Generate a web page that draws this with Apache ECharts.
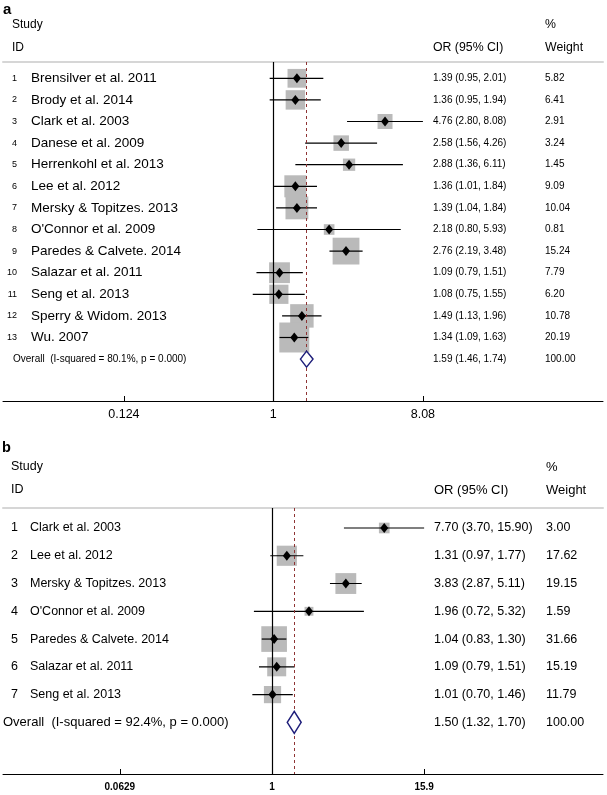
<!DOCTYPE html>
<html>
<head>
<meta charset="utf-8">
<title>Forest plots</title>
<script src="https://cdn.jsdelivr.net/npm/echarts@6/dist/echarts.min.js"></script>
<style>
  html, body { margin: 0; padding: 0; background: #fff; }
  #chart { width: 607px; height: 795px; }
</style>
</head>
<body>
<div id="chart"></div>
<script>
// Panel a - all studies
var studiesA = ['Brensilver et al. 2011', 'Brody et al. 2014', 'Clark et al. 2003', 'Danese et al. 2009',
    'Herrenkohl et al. 2013', 'Lee et al. 2012', 'Mersky & Topitzes. 2013', "O'Connor et al. 2009",
    'Paredes & Calvete. 2014', 'Salazar et al. 2011', 'Seng et al. 2013', 'Sperry & Widom. 2013', 'Wu. 2007'];
var orA = [1.39, 1.36, 4.76, 2.58, 2.88, 1.36, 1.39, 2.18, 2.76, 1.09, 1.08, 1.49, 1.34];
var loA = [0.95, 0.95, 2.80, 1.56, 1.36, 1.01, 1.04, 0.80, 2.19, 0.79, 0.75, 1.13, 1.09];
var hiA = [2.01, 1.94, 8.08, 4.26, 6.11, 1.84, 1.84, 5.93, 3.48, 1.51, 1.55, 1.96, 1.63];
var weightA = [5.82, 6.41, 2.91, 3.24, 1.45, 9.09, 10.04, 0.81, 15.24, 7.79, 6.20, 10.78, 20.19];
var overallA = [1.59, 1.46, 1.74];   // OR, lower, upper
var overallLabelA = 'Overall  (I-squared = 80.1%, p = 0.000)';
var ticksA = [0.124, 1, 8.08];

// Panel b - subset
var studiesB = ['Clark et al. 2003', 'Lee et al. 2012', 'Mersky & Topitzes. 2013', "O'Connor et al. 2009",
    'Paredes & Calvete. 2014', 'Salazar et al. 2011', 'Seng et al. 2013'];
var orB = [7.70, 1.31, 3.83, 1.96, 1.04, 1.09, 1.01];
var loB = [3.70, 0.97, 2.87, 0.72, 0.83, 0.79, 0.70];
var hiB = [15.90, 1.77, 5.11, 5.32, 1.30, 1.51, 1.46];
var weightB = [3.00, 17.62, 19.15, 1.59, 31.66, 15.19, 11.79];
var overallB = [1.50, 1.32, 1.70];
var overallLabelB = 'Overall  (I-squared = 92.4%, p = 0.000)';
var ticksB = [0.0629, 1, 15.9];

var FONT = '"Liberation Sans", Arial, Helvetica, sans-serif';

// layout of the two panels
var panels = [
    {
        studies: studiesA, or: orA, lo: loA, hi: hiA, weight: weightA, overall: overallA,
        overallLabel: overallLabelA, ticks: ticksA,
        top: 62, height: 339, yMin: 0.245, yMax: 15.94, xMin: 0.0229, xMax: 100,
        numX: 17, numAlign: 'right', numSize: 9, nameX: 31, nameSize: 13.5,
        orX: 433, wX: 545, colSize: 10, overallX: 13, overallSize: 10,
        boxBase: 5.8, boxScale: 5.38, mark: [8, 10], diamondH: 8,
        tickSize: 12.5, tickWeight: 'normal', tickMargin: 7
    },
    {
        studies: studiesB, or: orB, lo: loB, hi: hiB, weight: weightB, overall: overallB,
        overallLabel: overallLabelB, ticks: ticksB,
        top: 508, height: 266, yMin: 0.28, yMax: 9.86, xMin: 0.00752, xMax: 411,
        numX: 11, numAlign: 'left', numSize: 12.5, nameX: 30, nameSize: 12.5,
        orX: 434, wX: 546, colSize: 12.5, overallX: 3, overallSize: 13,
        boxBase: 4.0, boxScale: 3.85, mark: [8, 10], diamondH: 11,
        tickSize: 10, tickWeight: 'bold', tickMargin: 8
    }
];

function fmt(v) { return v.toFixed(2); }

function tickFormatter(ticks) {
    return function (v) {
        var best = ticks[0];
        ticks.forEach(function (t) {
            if (Math.abs(Math.log(t) - Math.log(v)) < Math.abs(Math.log(best) - Math.log(v))) best = t;
        });
        return String(best);
    };
}

var grids = [], xAxes = [], yAxes = [], series = [];

panels.forEach(function (p, k) {
    var n = p.studies.length;
    var overallRow = n + 1;

    grids.push({ left: 3, right: 4, top: p.top, height: p.height });

    // bottom axis with the three ticks
    xAxes.push({
        type: 'log', gridIndex: k, min: p.xMin, max: p.xMax, position: 'bottom',
        axisLine: { lineStyle: { color: '#000', width: 1 } },
        axisTick: { inside: true, length: 5, customValues: p.ticks, lineStyle: { color: '#000' } },
        axisLabel: {
            customValues: p.ticks, formatter: tickFormatter(p.ticks), margin: p.tickMargin,
            color: '#000', fontSize: p.tickSize, fontWeight: p.tickWeight, fontFamily: FONT
        },
        minorTick: { show: false }, splitLine: { show: false }
    });
    // header separator line on top of the plot region
    xAxes.push({
        type: 'log', gridIndex: k, min: p.xMin, max: p.xMax, position: 'top',
        axisLine: { lineStyle: { color: '#d6d6d6', width: 2 } },
        axisTick: { show: false }, axisLabel: { show: false },
        minorTick: { show: false }, splitLine: { show: false }
    });
    yAxes.push({ type: 'value', gridIndex: k, inverse: true, min: p.yMin, max: p.yMax, show: false });

    var xi = k * 2, yi = k;
    var rows = p.studies.map(function (s, i) { return i + 1; });

    // reference lines: null effect and pooled estimate
    series.push({
        type: 'scatter', xAxisIndex: xi, yAxisIndex: yi, data: [], silent: true, z: 1,
        markLine: {
            silent: true, symbol: 'none', label: { show: false }, animation: false,
            data: [
                { xAxis: 1, lineStyle: { color: '#000', width: 1.2, type: 'solid' } },
                { xAxis: p.overall[0], lineStyle: { color: '#8e3434', width: 1, type: [3, 3] } }
            ]
        }
    });

    // weight boxes
    series.push({
        type: 'scatter', xAxisIndex: xi, yAxisIndex: yi, z: 2, silent: true,
        symbol: 'rect',
        symbolSize: function (v) { return p.boxBase + p.boxScale * Math.sqrt(v[2]); },
        itemStyle: { color: '#bababa', opacity: 1 },
        data: rows.map(function (r, i) { return [p.or[i], r, p.weight[i]]; })
    });

    // confidence intervals
    series.push({
        type: 'custom', xAxisIndex: xi, yAxisIndex: yi, z: 3, silent: true,
        encode: { x: [0, 1], y: 2 },
        renderItem: function (params, api) {
            var a = api.coord([api.value(0), api.value(2)]);
            var b = api.coord([api.value(1), api.value(2)]);
            return {
                type: 'line',
                shape: { x1: a[0], y1: a[1], x2: b[0], y2: b[1] },
                style: { stroke: '#000', lineWidth: 1.2 }
            };
        },
        data: rows.map(function (r, i) { return [p.lo[i], p.hi[i], r]; })
    });

    // point estimates
    series.push({
        type: 'scatter', xAxisIndex: xi, yAxisIndex: yi, z: 4, silent: true,
        symbol: 'diamond', symbolSize: p.mark,
        itemStyle: { color: '#000', opacity: 1 },
        data: rows.map(function (r, i) { return [p.or[i], r]; })
    });

    // pooled diamond
    series.push({
        type: 'custom', xAxisIndex: xi, yAxisIndex: yi, z: 5, silent: true,
        encode: { x: [0, 1, 2], y: 3 },
        renderItem: function (params, api) {
            var l = api.coord([api.value(1), api.value(3)]);
            var c = api.coord([api.value(0), api.value(3)]);
            var r = api.coord([api.value(2), api.value(3)]);
            var h = p.diamondH;
            return {
                type: 'polygon',
                shape: { points: [[l[0], l[1]], [c[0], c[1] - h], [r[0], r[1]], [c[0], c[1] + h]] },
                style: { fill: '#fff', stroke: '#1e1e7a', lineWidth: 1.5 }
            };
        },
        data: [[p.overall[0], p.overall[1], p.overall[2], overallRow]]
    });

    // text columns: study names, OR (95% CI), weights
    var tableRows = rows.concat([overallRow]);
    series.push({
        type: 'custom', xAxisIndex: xi, yAxisIndex: yi, z: 6, silent: true,
        encode: { x: 0, y: 1 },
        renderItem: function (params, api) {
            var i = params.dataIndex;
            var y = api.coord([1, api.value(1)])[1];
            var txt = function (x, s, size, align) {
                return {
                    type: 'text', x: x, y: y,
                    style: { text: s, fill: '#000', fontSize: size, fontFamily: FONT, align: align || 'left', verticalAlign: 'middle' }
                };
            };
            var kids;
            if (i < n) {
                kids = [
                    txt(p.numX, String(i + 1), p.numSize, p.numAlign),
                    txt(p.nameX, p.studies[i], p.nameSize),
                    txt(p.orX, fmt(p.or[i]) + ' (' + fmt(p.lo[i]) + ', ' + fmt(p.hi[i]) + ')', p.colSize),
                    txt(p.wX, fmt(p.weight[i]), p.colSize)
                ];
            } else {
                kids = [
                    txt(p.overallX, p.overallLabel, p.overallSize),
                    txt(p.orX, fmt(p.overall[0]) + ' (' + fmt(p.overall[1]) + ', ' + fmt(p.overall[2]) + ')', p.colSize),
                    txt(p.wX, '100.00', p.colSize)
                ];
            }
            return { type: 'group', children: kids };
        },
        data: tableRows.map(function (r) { return [1, r]; })
    });
});

function label(x, y, s, size, weight) {
    return {
        type: 'text', x: x, y: y, silent: true,
        style: { text: s, fill: '#000', fontSize: size, fontWeight: weight || 'normal', fontFamily: FONT, verticalAlign: 'middle' }
    };
}

var chart = echarts.init(document.getElementById('chart'), null, { renderer: 'canvas' });
chart.setOption({
    animation: false,
    backgroundColor: '#fff',
    grid: grids,
    xAxis: xAxes,
    yAxis: yAxes,
    series: series,
    graphic: [
        label(3, 10, 'a', 15, 'bold'),
        label(12, 25, 'Study', 12),
        label(12, 48, 'ID', 12),
        label(433, 48, 'OR (95% CI)', 12.3),
        label(545, 25, '%', 12.3),
        label(545, 48, 'Weight', 12.3),
        label(2, 448, 'b', 14.5, 'bold'),
        label(11, 467, 'Study', 12.5),
        label(11, 490, 'ID', 12.5),
        label(434, 490, 'OR (95% CI)', 13),
        label(546, 467, '%', 13),
        label(546, 490, 'Weight', 13)
    ]
});

window.addEventListener('resize', function () {
    chart.resize();
});
</script>
</body>
</html>
